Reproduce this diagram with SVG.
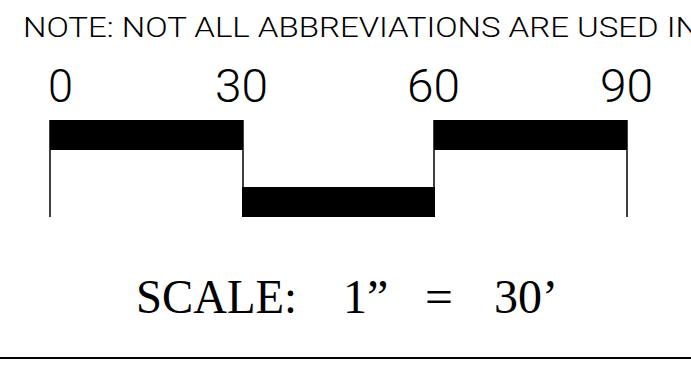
<svg xmlns="http://www.w3.org/2000/svg" width="691" height="368" viewBox="0 0 691 368">
<style>
.note{font-family:"Roboto","Liberation Sans",Arial,sans-serif;font-weight:300;font-size:27px;fill:#000}
.num{font-family:"Roboto","Liberation Sans",Arial,sans-serif;font-weight:300;font-size:46px;fill:#000}
.scale{font-family:"Liberation Serif","Times New Roman",serif;font-size:48px;fill:#000}
.bar{fill:#000}
.tick{stroke:#000;stroke-width:1.5;fill:none}
</style>
<rect width="691" height="368" fill="#fff"/>
<text class="note" x="23" y="37" textLength="676" lengthAdjust="spacingAndGlyphs">NOTE:  NOT  ALL  ABBREVIATIONS  ARE  USED  IN</text>
<g id="labels">
<text class="num" x="48" y="102" textLength="25" lengthAdjust="spacingAndGlyphs">0</text>
<text class="num" x="215" y="102" textLength="53" lengthAdjust="spacingAndGlyphs">30</text>
<text class="num" x="407" y="102" textLength="53" lengthAdjust="spacingAndGlyphs">60</text>
<text class="num" x="600" y="102" textLength="53" lengthAdjust="spacingAndGlyphs">90</text>
</g>
<g id="scalebar">
<rect class="bar" x="50" y="120" width="193" height="30"/>
<rect class="bar" x="242" y="187" width="193" height="30"/>
<rect class="bar" x="434" y="120" width="193" height="30"/>
<line class="tick" x1="50" y1="120" x2="50" y2="217"/>
<line class="tick" x1="243" y1="120" x2="243" y2="217"/>
<line class="tick" x1="434" y1="120" x2="434" y2="217"/>
<line class="tick" x1="627" y1="120" x2="627" y2="217"/>
</g>
<g id="scale-text">
<text class="scale" x="136" y="313" textLength="161" lengthAdjust="spacingAndGlyphs">SCALE:</text>
<text class="scale" x="343" y="313">1”</text>
<text class="scale" x="425" y="313" textLength="28" lengthAdjust="spacingAndGlyphs">=</text>
<text class="scale" x="494" y="313">30’</text>
</g>
<line x1="0" y1="358" x2="691" y2="358" stroke="#000" stroke-width="2"/>
</svg>
